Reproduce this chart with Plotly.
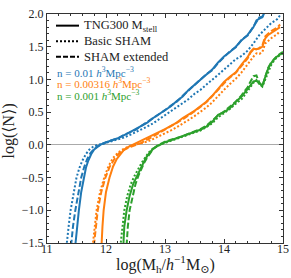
import plotly.graph_objects as go

# ---------------- data ----------------
blue_solid_x = [11.45, 11.48, 11.51, 11.54, 11.58, 11.62, 11.66, 11.70, 11.75, 11.80, 11.85, 11.90, 11.95, 12.0,
                12.1, 12.2, 12.3, 12.4, 12.5, 12.6, 12.7, 12.8, 12.9, 13.0, 13.1, 13.2, 13.3, 13.4, 13.5, 13.6,
                13.7, 13.8, 13.9, 14.0, 14.1, 14.2, 14.3, 14.4, 14.5, 14.55, 14.6, 14.65, 14.7]
blue_solid_y = [-1.8, -1.5, -1.25, -1.0, -0.72, -0.5, -0.35, -0.24, -0.14, -0.07, -0.03, 0.0, 0.02, 0.04,
                0.07, 0.10, 0.14, 0.19, 0.24, 0.29, 0.34, 0.41, 0.47, 0.54, 0.59, 0.67, 0.74, 0.84, 0.92, 0.99,
                1.07, 1.15, 1.26, 1.35, 1.42, 1.50, 1.60, 1.68, 1.80, 1.90, 1.93, 1.95, 2.05]

blue_dot_x = [11.30, 11.33, 11.37, 11.40, 11.45, 11.50, 11.55, 11.60, 11.66, 11.72, 11.78, 11.85, 11.92, 12.0,
              12.1, 12.2, 12.3, 12.4, 12.5, 12.6, 12.7, 12.8, 12.9, 13.0, 13.1, 13.2, 13.3, 13.4, 13.5, 13.6,
              13.7, 13.8, 13.9, 14.0, 14.1, 14.2, 14.3, 14.4, 14.5, 14.6, 14.7, 14.8, 14.9, 14.95]
blue_dot_y = [-1.8, -1.5, -1.22, -1.0, -0.72, -0.5, -0.35, -0.24, -0.14, -0.07, -0.03, 0.0, 0.01, 0.03,
              0.05, 0.08, 0.11, 0.15, 0.19, 0.23, 0.28, 0.33, 0.39, 0.45, 0.51, 0.57, 0.64, 0.70, 0.78, 0.84,
              0.92, 0.99, 1.07, 1.15, 1.23, 1.31, 1.36, 1.44, 1.55, 1.68, 1.77, 1.86, 1.92, 1.98]

blue_dash_x = [11.38, 11.41, 11.44, 11.48, 11.53, 11.58, 11.63, 11.68, 11.74, 11.80, 11.86, 11.92, 12.0,
               12.1, 12.2, 12.3, 12.4, 12.5, 12.6, 12.7, 12.8, 12.9, 13.0, 13.1, 13.2, 13.3, 13.4, 13.5, 13.6,
               13.7, 13.8, 13.9, 14.0, 14.1, 14.2, 14.3, 14.4, 14.5, 14.55, 14.6, 14.65, 14.7]
blue_dash_y = [-1.8, -1.5, -1.25, -1.0, -0.72, -0.5, -0.34, -0.22, -0.12, -0.06, -0.02, 0.01, 0.04,
               0.07, 0.10, 0.15, 0.19, 0.23, 0.29, 0.35, 0.40, 0.47, 0.53, 0.60, 0.66, 0.75, 0.83, 0.91, 0.99,
               1.08, 1.14, 1.25, 1.34, 1.43, 1.49, 1.61, 1.67, 1.81, 1.88, 1.95, 1.96, 2.06]

orange_solid_x = [11.91, 11.92, 11.94, 11.96, 12.0, 12.06, 12.12, 12.18, 12.24, 12.30, 12.38, 12.45, 12.52,
                  12.6, 12.7, 12.8, 12.9, 13.0, 13.1, 13.2, 13.3, 13.4, 13.5, 13.6, 13.7, 13.8, 13.9, 14.0,
                  14.1, 14.2, 14.3, 14.4, 14.45, 14.5, 14.55, 14.6, 14.65, 14.7, 14.75, 14.8, 14.9, 14.95]
orange_solid_y = [-1.8, -1.5, -1.25, -1.0, -0.72, -0.5, -0.33, -0.22, -0.14, -0.08, -0.03, 0.0, 0.03,
                  0.06, 0.10, 0.15, 0.19, 0.24, 0.29, 0.34, 0.41, 0.46, 0.52, 0.59, 0.66, 0.75, 0.86, 0.96,
                  1.04, 1.11, 1.23, 1.34, 1.42, 1.47, 1.46, 1.47, 1.50, 1.63, 1.68, 1.71, 1.76, 1.80]

orange_dot_x = [11.76, 11.78, 11.81, 11.84, 11.90, 11.97, 12.04, 12.12, 12.2, 12.3, 12.4, 12.5, 12.6,
                12.7, 12.8, 12.9, 13.0, 13.1, 13.2, 13.3, 13.4, 13.5, 13.6, 13.7, 13.8, 13.9, 14.0,
                14.1, 14.2, 14.3, 14.4, 14.5, 14.55, 14.6, 14.65, 14.7, 14.8, 14.9, 14.95]
orange_dot_y = [-1.8, -1.5, -1.25, -1.0, -0.72, -0.5, -0.33, -0.2, -0.12, -0.06, -0.02, 0.0, 0.02,
                0.05, 0.09, 0.13, 0.17, 0.22, 0.27, 0.32, 0.38, 0.44, 0.50, 0.57, 0.65, 0.75, 0.84,
                0.93, 1.01, 1.11, 1.24, 1.35, 1.40, 1.39, 1.42, 1.55, 1.63, 1.69, 1.74]

orange_dash_x = [11.78, 11.80, 11.83, 11.86, 11.92, 11.99, 12.06, 12.14, 12.22, 12.32, 12.42, 12.52, 12.6,
                 12.7, 12.8, 12.9, 13.0, 13.1, 13.2, 13.3, 13.4, 13.5, 13.6, 13.7, 13.8, 13.9, 14.0,
                 14.1, 14.2, 14.3, 14.4, 14.45, 14.5, 14.55, 14.6, 14.65, 14.7, 14.8, 14.9, 14.95]
orange_dash_y = [-1.8, -1.5, -1.25, -1.0, -0.72, -0.5, -0.34, -0.22, -0.13, -0.07, -0.03, 0.0, 0.03,
                 0.08, 0.13, 0.18, 0.23, 0.28, 0.33, 0.39, 0.45, 0.51, 0.58, 0.65, 0.74, 0.84, 0.94,
                 1.03, 1.10, 1.21, 1.32, 1.41, 1.46, 1.46, 1.48, 1.52, 1.66, 1.74, 1.79, 1.84]

green_solid_x = [12.28, 12.29, 12.31, 12.35, 12.40, 12.46, 12.52, 12.57, 12.62, 12.67, 12.73, 12.80, 12.87,
                 12.93, 13.0, 13.1, 13.2, 13.3, 13.4, 13.5, 13.6, 13.7, 13.8, 13.9, 14.0, 14.1, 14.2, 14.3,
                 14.4, 14.45, 14.5, 14.55, 14.6, 14.65, 14.7, 14.75, 14.8, 14.85, 14.9, 14.95, 15.0]
green_solid_y = [-1.8, -1.5, -1.25, -1.0, -0.78, -0.60, -0.49, -0.39, -0.30, -0.21, -0.13, -0.06, -0.02,
                 0.01, 0.04, 0.07, 0.10, 0.13, 0.16, 0.19, 0.23, 0.28, 0.35, 0.46, 0.50, 0.56, 0.66, 0.74,
                 0.85, 0.92, 0.97, 0.98, 0.94, 0.90, 1.04, 1.17, 1.25, 1.31, 1.35, 1.38, 1.41]

green_dot_x = [12.23, 12.25, 12.28, 12.31, 12.36, 12.42, 12.48, 12.54, 12.60, 12.66, 12.72, 12.79, 12.86,
               12.93, 13.0, 13.1, 13.2, 13.3, 13.4, 13.5, 13.6, 13.7, 13.8, 13.9, 14.0, 14.1, 14.2, 14.3,
               14.4, 14.45, 14.5, 14.55, 14.6, 14.65, 14.7, 14.75, 14.8, 14.85, 14.9, 14.95, 15.0]
green_dot_y = [-1.8, -1.5, -1.25, -1.0, -0.78, -0.60, -0.48, -0.37, -0.28, -0.20, -0.12, -0.06, -0.02,
               0.01, 0.03, 0.06, 0.09, 0.12, 0.15, 0.18, 0.22, 0.27, 0.33, 0.42, 0.48, 0.55, 0.63, 0.70,
               0.82, 0.88, 0.95, 0.99, 0.93, 0.89, 1.00, 1.13, 1.22, 1.29, 1.34, 1.37, 1.40]

green_dash_x = [12.33, 12.35, 12.37, 12.40, 12.45, 12.50, 12.55, 12.60, 12.65, 12.70, 12.75, 12.81, 12.87,
                12.93, 13.0, 13.1, 13.2, 13.3, 13.4, 13.5, 13.6, 13.7, 13.8, 13.9, 14.0, 14.1, 14.2, 14.3,
                14.4, 14.45, 14.5, 14.55, 14.6, 14.65, 14.7, 14.75, 14.8, 14.85, 14.9, 14.95, 15.0]
green_dash_y = [-1.8, -1.5, -1.25, -1.0, -0.78, -0.60, -0.47, -0.36, -0.27, -0.19, -0.12, -0.05, -0.01,
                0.02, 0.05, 0.08, 0.10, 0.13, 0.17, 0.20, 0.24, 0.29, 0.37, 0.45, 0.51, 0.58, 0.66, 0.76,
                0.88, 0.97, 1.05, 1.06, 0.95, 0.90, 1.06, 1.18, 1.26, 1.31, 1.36, 1.39, 1.42]

x_ticks = [11, 12, 13, 14, 15]
y_ticks = [-1.5, -1.0, -0.5, 0.0, 0.5, 1.0, 1.5, 2.0]

legend_labels = ["TNG300 M<sub>stell</sub>", "Basic SHAM", "SHAM extended"]
density_labels = ["n = 0.01 <i>h</i><sup>3</sup>Mpc<sup>−3</sup>",
                  "n = 0.00316 <i>h</i><sup>3</sup>Mpc<sup>−3</sup>",
                  "n = 0.001 <i>h</i><sup>3</sup>Mpc<sup>−3</sup>"]

BLUE, ORANGE, GREEN = "#1f77b4", "#ff7f0e", "#2ca02c"
SERIF = "Liberation Serif, DejaVu Serif, serif"
DOT = "2px,2px"
DASH = "6px,2.5px"

fig = go.Figure()
series = [
    (blue_solid_x, blue_solid_y, BLUE, "solid"), (blue_dot_x, blue_dot_y, BLUE, DOT), (blue_dash_x, blue_dash_y, BLUE, DASH),
    (orange_solid_x, orange_solid_y, ORANGE, "solid"), (orange_dot_x, orange_dot_y, ORANGE, DOT), (orange_dash_x, orange_dash_y, ORANGE, DASH),
    (green_solid_x, green_solid_y, GREEN, "solid"), (green_dot_x, green_dot_y, GREEN, DOT), (green_dash_x, green_dash_y, GREEN, DASH),
]
for xs, ys, c, d in series:
    fig.add_trace(go.Scatter(x=xs, y=ys, mode="lines", line=dict(color=c, width=2, dash=d), showlegend=False))

L, R, T, B = 47, 8, 7, 35
W, H = 291, 278
pw, ph = W - L - R, H - T - B

def px2paper(px, py):
    return (px - L) / pw, (H - B - py) / ph

# legend (drawn manually)
styles = ["solid", "dot", "dash"]
for i, (lab, st) in enumerate(zip(legend_labels, styles)):
    py = 19 + 16 * i
    x0, y0 = px2paper(56, py)
    x1, _ = px2paper(79, py)
    fig.add_shape(type="line", xref="paper", yref="paper", x0=x0, x1=x1, y0=y0, y1=y0,
                  line=dict(color="black", width=2, dash={"solid": "solid", "dot": DOT, "dash": "5px,2px"}[st]))
    tx, _ = px2paper(82, py)
    fig.add_annotation(xref="paper", yref="paper", x=tx, y=y0, text=lab, showarrow=False,
                       xanchor="left", yanchor="middle", font=dict(family=SERIF, size=12.5, color="#222"))

for i, (lab, c) in enumerate(zip(density_labels, [BLUE, ORANGE, GREEN])):
    py = 67 + 11.5 * i
    tx, ty = px2paper(55, py)
    fig.add_annotation(xref="paper", yref="paper", x=tx, y=ty, text=lab, showarrow=False,
                       xanchor="left", yanchor="middle", font=dict(family=SERIF, size=11, color=c))

# x tick labels placed close to the axis, as in the reference
for v in x_ticks:
    fig.add_annotation(xref="x", yref="paper", x=v, y=px2paper(0, 249)[1], text=str(v), showarrow=False,
                       xanchor="center", yanchor="middle", font=dict(family=SERIF, size=12, color="#222"))

# axis titles
fig.add_annotation(xref="paper", yref="paper", x=(165 - L) / pw, y=px2paper(0, 265)[1],
                   text="log(M<sub>h</sub>/<i>h</i><sup>−1</sup>M<sub>⊙</sub>)", showarrow=False,
                   xanchor="center", yanchor="middle", font=dict(family=SERIF, size=16, color="#222"))
fig.add_annotation(xref="paper", yref="paper", x=px2paper(9, 0)[0], y=px2paper(0, 128)[1],
                   text="log(⟨N⟩)", showarrow=False, textangle=-90,
                   xanchor="center", yanchor="middle", font=dict(family=SERIF, size=16, color="#222"))

axis_common = dict(showline=True, mirror="allticks", linecolor="#333", linewidth=1, ticks="inside",
                   ticklen=4, tickwidth=1, tickcolor="#333", showgrid=False,
                   tickfont=dict(family=SERIF, size=12, color="#222"))
fig.update_xaxes(range=[11, 15], tickvals=x_ticks, showticklabels=False,
                 minor=dict(ticks="inside", ticklen=2, dtick=0.2, tickcolor="#333", showgrid=False),
                 zeroline=False, **axis_common)
fig.update_yaxes(range=[-1.5, 2.0], tickvals=y_ticks, tickformat=".1f",
                 minor=dict(ticks="inside", ticklen=2, dtick=0.1, tickcolor="#333", showgrid=False),
                 zeroline=True, zerolinecolor="#aaaaaa", zerolinewidth=1, **axis_common)
fig.update_layout(width=W, height=H, margin=dict(l=L, r=R, t=T, b=B), plot_bgcolor="white",
                  paper_bgcolor="white", showlegend=False)
fig.write_html("out.html", config={"displayModeBar": False},
               post_script="document.body.style.margin='0';document.body.style.overflow='hidden';")
